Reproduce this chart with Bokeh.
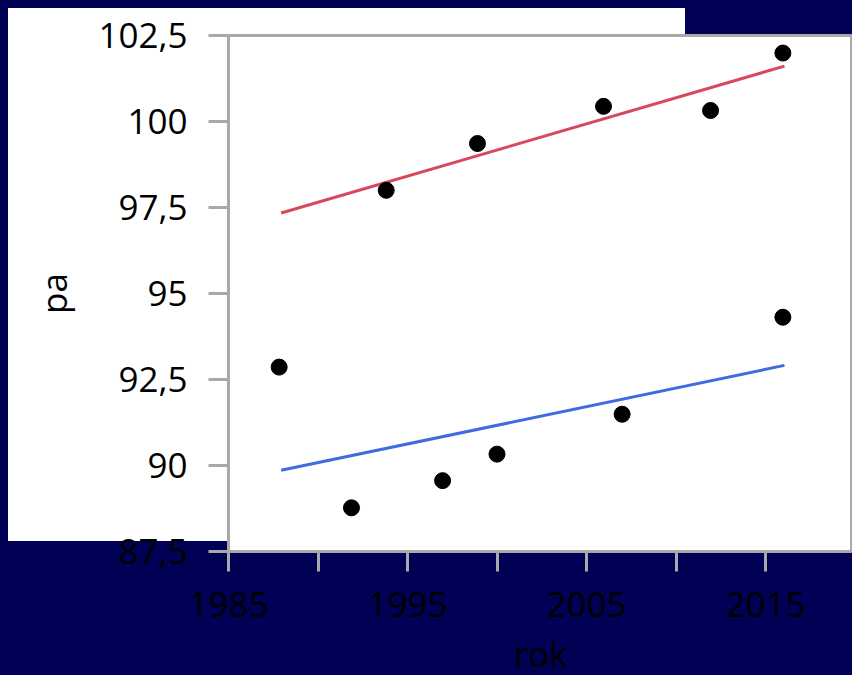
from bokeh.plotting import figure
from bokeh.models import FixedTicker, Range1d
from bokeh.embed import file_html
from bokeh.resources import INLINE

# data
years = [1987.83, 1991.87, 1993.81, 1996.96, 1998.91, 2000.0, 2005.95, 2006.99, 2011.93, 2015.97, 2015.97]
pa = [92.86, 88.77, 98.0, 89.56, 99.36, 90.33, 100.44, 91.49, 100.32, 101.99, 94.31]

red_x = [1987.94, 2016.06]
red_y = [97.34, 101.61]
blue_x = [1987.94, 2016.06]
blue_y = [89.86, 92.91]

x_ticks = [1985, 1990, 1995, 2000, 2005, 2010, 2015]
x_tick_labels = ["1985", "", "1995", "", "2005", "", "2015"]
y_ticks = [87.5, 90, 92.5, 95, 97.5, 100, 102.5]
y_tick_labels = ["87,5", "90", "92,5", "95", "97,5", "100", "102,5"]
x_title = "rok"
y_title = "pa"

NAVY = "#000055"
GRAY = "#a9a9a9"
FONT = "Open Sans"

p = figure(width=852, height=685, output_backend="svg", toolbar_location=None,
           x_range=Range1d(1985, 2019.86), y_range=Range1d(87.5, 102.5),
           min_border_left=228, min_border_right=0, min_border_top=35, min_border_bottom=134,
           x_axis_label=x_title, y_axis_label=y_title)
p.styles = {"position": "fixed", "top": "0px", "left": "0px",
            "background": "linear-gradient(#ffffff, #ffffff) 8px 8px / 677px 533px no-repeat, " + NAVY}
p.border_fill_color = None
p.background_fill_color = "white"
p.outline_line_color = GRAY
p.outline_line_width = 3
p.grid.visible = False

p.line(red_x, red_y, line_color="#d9485a", line_width=3)
p.line(blue_x, blue_y, line_color="#4169e1", line_width=3)
p.scatter(years, pa, size=16, color="black")

p.xaxis.ticker = FixedTicker(ticks=x_ticks)
p.xaxis.major_label_overrides = dict(zip(x_ticks, x_tick_labels))
p.yaxis.ticker = FixedTicker(ticks=y_ticks)
p.yaxis.major_label_overrides = dict(zip(y_ticks, y_tick_labels))

for ax in (p.xaxis[0], p.yaxis[0]):
    ax.axis_line_color = GRAY
    ax.axis_line_width = 3
    ax.major_tick_line_color = GRAY
    ax.major_tick_line_width = 3
    ax.major_tick_out = 20
    ax.major_tick_in = 0
    ax.minor_tick_line_color = None
    ax.major_label_text_font = FONT
    ax.major_label_text_font_size = "35px"
    ax.major_label_text_color = "black"
    ax.axis_label_text_font = FONT
    ax.axis_label_text_font_size = "35px"
    ax.axis_label_text_color = "black"
    ax.axis_label_text_font_style = "normal"

p.xaxis.major_label_standoff = 20
p.yaxis.major_label_standoff = 21
p.xaxis.axis_label_standoff = 10
p.yaxis.axis_label_standoff = 18

open("out.html", "w").write(file_html(p, INLINE))
